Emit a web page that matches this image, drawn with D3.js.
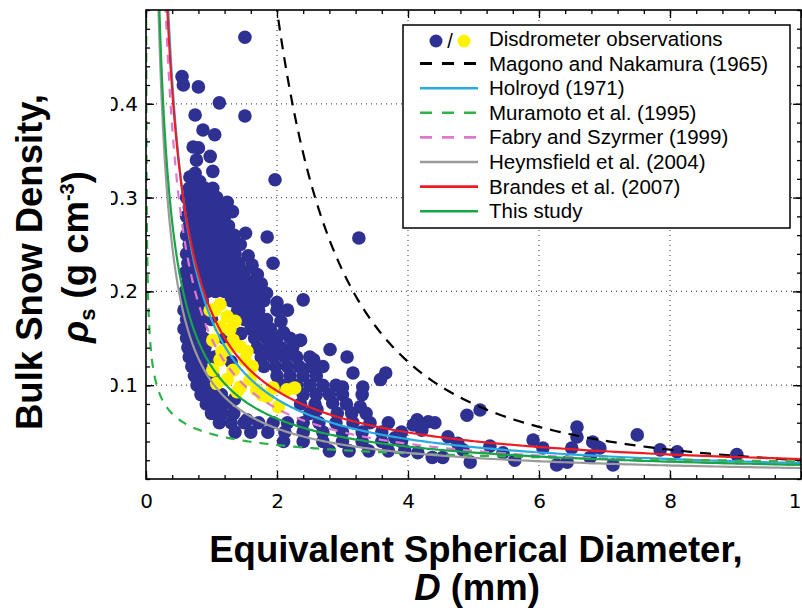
<!DOCTYPE html>
<html>
<head>
<meta charset="utf-8">
<script src="https://cdn.jsdelivr.net/npm/d3@7/dist/d3.min.js"></script>
<style>
  body { margin: 0; background: #fff; }
</style>
</head>
<body>
<div id="chart"></div>
<script>
// axis ticks
const xTicks = [0, 2, 4, 6, 8, 10];
const yTicks = [0.1, 0.2, 0.3, 0.4];
const yTickLabels = ["0.1", "0.2", "0.3", "0.4"];

// density-size relations rho = a * D^b
const curveNames = ["Magono and Nakamura (1965)", "Holroyd (1971)", "Muramoto et al. (1995)",
                    "Fabry and Szyrmer (1999)", "Heymsfield et al. (2004)", "Brandes et al. (2007)", "This study"];
const curveA = [2.0, 0.17, 0.048, 0.15, 0.104, 0.178, 0.12];
const curveB = [-2.0, -1.0, -0.406, -1.0, -0.95, -0.922, -0.9];
const curveColors = ["#000000", "#29abe2", "#2fb24a", "#de78cf", "#9a9a9a", "#ed1c24", "#17a547"];
const curveDashes = ["11,8", null, "9,8", "9,8", null, null, null];

// disdrometer observations [D (mm), rho (g cm-3)]
const blueObs = [
  [1.51,0.471],[0.55,0.429],[0.57,0.420],[0.80,0.418],[1.12,0.401],[1.51,0.387],[0.75,0.388],
  [0.87,0.372],[1.05,0.367],[0.72,0.354],[0.80,0.353],[0.98,0.344],[0.77,0.340],[0.75,0.326],
  [1.02,0.328],[1.97,0.319],[1.24,0.295],[0.67,0.322],[0.82,0.317],
  [0.66,0.31],[0.78,0.31],[0.90,0.31],[1.02,0.31],
  [0.62,0.30],[0.72,0.30],[0.84,0.30],[0.96,0.30],[1.08,0.30],
  [0.66,0.29],[0.78,0.29],[0.90,0.29],[1.02,0.29],[1.14,0.29],
  [0.62,0.28],[0.72,0.28],[0.84,0.28],[0.96,0.28],[1.08,0.28],[1.20,0.28],[1.32,0.285],
  [0.66,0.27],[0.78,0.27],[0.90,0.27],[1.02,0.27],[1.14,0.27],[1.26,0.27],
  [0.62,0.26],[0.72,0.26],[0.84,0.26],[0.96,0.26],[1.08,0.26],[1.20,0.26],[1.34,0.26],[1.52,0.262],
  [0.66,0.25],[0.78,0.25],[0.90,0.25],[1.02,0.25],[1.14,0.25],[1.28,0.25],[1.44,0.25],
  [0.62,0.24],[0.72,0.24],[0.84,0.24],[0.96,0.24],[1.08,0.24],[1.20,0.24],[1.36,0.24],[1.56,0.238],
  [0.64,0.23],[0.76,0.23],[0.88,0.23],[1.00,0.23],[1.12,0.23],[1.26,0.23],[1.42,0.23],[1.62,0.228],
  [0.60,0.22],[0.70,0.22],[0.82,0.22],[0.94,0.22],[1.06,0.22],[1.18,0.22],[1.32,0.22],[1.50,0.22],[1.70,0.218],
  [0.64,0.21],[0.76,0.21],[0.88,0.21],[1.00,0.21],[1.12,0.21],[1.26,0.21],[1.42,0.21],[1.58,0.21],[1.76,0.208],
  [0.60,0.20],[0.70,0.20],[0.82,0.20],[0.94,0.20],[1.06,0.20],[1.20,0.20],[1.36,0.20],[1.52,0.20],[1.68,0.20],[1.84,0.198],
  [0.62,0.19],[0.74,0.19],[0.86,0.19],[1.30,0.19],[1.46,0.19],[1.62,0.19],[1.80,0.19],[2.00,0.188],
  [0.58,0.18],[0.70,0.18],[0.82,0.18],[1.40,0.18],[1.56,0.18],[1.72,0.18],[2.00,0.180],[2.16,0.180],
  [0.62,0.17],[0.74,0.17],[0.86,0.17],[1.50,0.17],[1.66,0.17],[1.84,0.17],[2.06,0.168],
  [0.58,0.16],[0.70,0.16],[0.82,0.16],[1.60,0.16],[1.76,0.16],[1.90,0.16],[2.10,0.156],
  [0.62,0.15],[0.74,0.15],[0.88,0.15],[1.66,0.15],[1.84,0.15],[2.00,0.15],[2.20,0.15],[2.36,0.148],
  [0.64,0.14],[0.76,0.14],[0.90,0.14],[1.70,0.14],[1.88,0.14],[2.06,0.14],[2.24,0.14],[2.56,0.127],[2.81,0.138],
  [0.66,0.13],[0.80,0.13],[0.94,0.13],[1.76,0.13],[1.94,0.13],[2.12,0.13],[2.30,0.13],[2.50,0.13],[3.07,0.130],
  [0.70,0.12],[0.84,0.12],[1.80,0.12],[1.98,0.12],[2.16,0.12],[2.34,0.12],[2.52,0.12],[2.70,0.12],
  [0.74,0.11],[0.88,0.11],[1.02,0.11],[2.00,0.11],[2.20,0.11],[2.40,0.11],[2.60,0.11],[3.16,0.113],[3.58,0.106],[3.66,0.113],
  [0.78,0.10],[0.92,0.10],[2.10,0.10],[2.30,0.10],[2.50,0.10],[2.70,0.10],[2.90,0.10],[3.00,0.098],[3.31,0.098],
  [0.84,0.09],[0.98,0.09],[1.12,0.09],[2.40,0.09],[2.60,0.09],[2.80,0.09],[3.00,0.09],[3.30,0.09],
  [0.92,0.08],[1.06,0.08],[1.24,0.081],[2.36,0.08],[2.58,0.08],[2.85,0.081],[3.06,0.08],[3.27,0.077],
  [1.00,0.07],[1.16,0.07],[1.34,0.07],[1.54,0.063],[2.50,0.07],[2.61,0.074],[2.92,0.07],[3.14,0.07],[3.36,0.07],
  [1.12,0.06],[1.30,0.06],[1.50,0.06],[1.72,0.06],[1.94,0.06],[2.16,0.06],[2.40,0.06],[2.64,0.06],[2.90,0.06],[3.16,0.06],[3.42,0.06],[3.70,0.06],
  [1.36,0.05],[1.60,0.05],[1.86,0.05],[2.12,0.05],[2.40,0.05],[2.70,0.05],[3.00,0.05],[3.30,0.05],[3.60,0.05],[3.90,0.05],
  [2.10,0.04],[2.40,0.04],[2.70,0.04],[3.00,0.04],[3.30,0.04],[3.60,0.04],[3.90,0.04],
  [2.80,0.03],[3.10,0.03],[3.40,0.03],[3.70,0.03],
  [1.00,0.17],[1.20,0.15],[1.05,0.13],[1.30,0.125],[1.45,0.155],[1.15,0.09],[1.35,0.085],
  [1.85,0.258],[3.25,0.257],[1.94,0.230],[2.40,0.191],[1.89,0.152],[2.35,0.148],
  [6.58,0.0555],[6.58,0.0448],[6.50,0.033],[6.82,0.0395],[6.27,0.015],[6.43,0.018],[5.91,0.0416],
  [6.06,0.033],[5.63,0.020],[5.10,0.0736],[4.90,0.068],[4.95,0.018],[4.61,0.045],[4.37,0.023],
  [4.53,0.023],[4.31,0.061],[4.14,0.063],[4.08,0.0576],[4.41,0.060],[4.21,0.052],[3.80,0.044],
  [7.50,0.047],[7.13,0.015],[6.78,0.023],[6.90,0.034],[4.76,0.038],[4.84,0.031],[7.85,0.031],
  [8.11,0.029],[9.02,0.026],[6.93,0.033],[3.95,0.030],[4.15,0.028],[5.25,0.035],[5.45,0.028]
];
const yellowObs = [
  [1.13,0.186],[1.05,0.180],[1.24,0.173],[1.36,0.168],[1.13,0.162],[1.02,0.148],[1.33,0.148],
  [1.44,0.141],[1.54,0.136],[1.24,0.138],[1.13,0.127],[1.02,0.116],[1.33,0.116],[1.62,0.120],
  [1.24,0.106],[1.44,0.098],[1.69,0.095],[1.94,0.097],[2.15,0.095],[2.27,0.097],[1.85,0.088],
  [2.02,0.077],[1.39,0.093],[1.08,0.102],[0.98,0.180],[1.28,0.159],[1.51,0.127],[1.16,0.136],
  [1.59,0.106],[1.77,0.090]
];

const W = 802, H = 615;
const pLeft = 146, pRight = 801, pTop = 10, pBottom = 479;
const x = d3.scaleLinear().domain([0, 10]).range([pLeft, pRight]);
const y = d3.scaleLinear().domain([0, 0.5]).range([pBottom, pTop]);

const svg = d3.select("#chart").append("svg")
    .attr("width", W)
    .attr("height", H)
    .style("font-family", "'Liberation Sans', Arial, Helvetica, sans-serif");

svg.append("rect").attr("width", W).attr("height", H).attr("fill", "#fff");

const defs = svg.append("defs");
defs.append("clipPath").attr("id", "plotClip")
    .append("rect").attr("x", pLeft).attr("y", pTop).attr("width", pRight - pLeft).attr("height", pBottom - pTop);
defs.append("clipPath").attr("id", "labelClip")
    .append("rect").attr("x", 111 - pLeft).attr("y", -10).attr("width", 40).attr("height", H + 20);

// dotted grid
const grid = svg.append("g").attr("stroke", "#555").attr("stroke-width", 1.2).attr("stroke-dasharray", "1,4");
grid.selectAll("line.vx").data(xTicks.slice(1, -1)).enter().append("line")
    .attr("x1", d => x(d)).attr("x2", d => x(d)).attr("y1", pTop).attr("y2", pBottom);
grid.selectAll("line.hy").data(yTicks).enter().append("line")
    .attr("x1", pLeft).attr("x2", pRight).attr("y1", d => y(d)).attr("y2", d => y(d));

// observations
const dots = svg.append("g").attr("clip-path", "url(#plotClip)");
dots.selectAll("circle.blue").data(blueObs).enter().append("circle")
    .attr("cx", d => x(d[0])).attr("cy", d => y(d[1])).attr("r", 6.8)
    .attr("fill", "#2e3192");
dots.selectAll("circle.yellow").data(yellowObs).enter().append("circle")
    .attr("cx", d => x(d[0])).attr("cy", d => y(d[1])).attr("r", 6.8)
    .attr("fill", "#fff200");

// fitted relations
const dGrid = d3.range(-2.7, 1.0001, 0.005).map(e => Math.pow(10, e));
const line = d3.line().x(p => x(p[0])).y(p => y(p[1]));
const curves = svg.append("g").attr("clip-path", "url(#plotClip)").attr("fill", "none");
curveNames.forEach((name, i) => {
    const pts = dGrid.map(D => [D, curveA[i] * Math.pow(D, curveB[i])]).filter(p => p[1] < 0.6);
    curves.append("path")
        .attr("d", line(pts))
        .attr("stroke", curveColors[i])
        .attr("stroke-width", 2.2)
        .attr("stroke-dasharray", curveDashes[i]);
});

// ticks on all four sides, pointing inward
const minorX = d3.range(0, 10.001, 0.4);
const minorY = d3.range(0, 0.5001, 0.02);
function clean(g) { g.select(".domain").remove(); g.selectAll("line").attr("stroke", "#000").attr("stroke-width", 1.3); }

svg.append("g").attr("transform", `translate(0,${pBottom})`)
    .call(d3.axisBottom(x).tickValues(minorX).tickSize(-4).tickFormat("")).call(clean);
svg.append("g").attr("transform", `translate(0,${pTop})`)
    .call(d3.axisTop(x).tickValues(minorX).tickSize(-4).tickFormat("")).call(clean);
svg.append("g").attr("transform", `translate(${pLeft},0)`)
    .call(d3.axisLeft(y).tickValues(minorY).tickSize(-4).tickFormat("")).call(clean);
svg.append("g").attr("transform", `translate(${pRight},0)`)
    .call(d3.axisRight(y).tickValues(minorY).tickSize(-4).tickFormat("")).call(clean);

const xAxis = svg.append("g").attr("transform", `translate(0,${pBottom})`)
    .call(d3.axisBottom(x).tickValues(xTicks).tickSize(-8).tickPadding(15).tickFormat(d3.format("d")))
    .call(clean);
xAxis.selectAll("text").attr("font-size", 20).attr("font-family", "'DejaVu Sans', sans-serif").attr("fill", "#000");

// y labels: the leading zero is partly hidden in the original
const yAxis = svg.append("g").attr("transform", `translate(${pLeft},0)`)
    .call(d3.axisLeft(y).tickValues(yTicks).tickSize(-8).tickPadding(8).tickFormat((d, i) => yTickLabels[i]))
    .call(clean);
yAxis.selectAll("text").attr("font-size", 20).attr("font-family", "'DejaVu Sans', sans-serif").attr("fill", "#000");
yAxis.attr("clip-path", "url(#labelClip)");

svg.append("g").attr("transform", `translate(${pLeft},0)`)
    .call(d3.axisLeft(y).tickValues(yTicks).tickSize(-8).tickFormat("")).call(clean);
svg.append("g").attr("transform", `translate(${pRight},0)`)
    .call(d3.axisRight(y).tickValues(yTicks).tickSize(-8).tickFormat("")).call(clean);
svg.append("g").attr("transform", `translate(0,${pTop})`)
    .call(d3.axisTop(x).tickValues(xTicks).tickSize(-8).tickFormat("")).call(clean);

// frame
svg.append("rect").attr("x", pLeft).attr("y", pTop).attr("width", pRight - pLeft).attr("height", pBottom - pTop)
    .attr("fill", "none").attr("stroke", "#000").attr("stroke-width", 1.6);

// legend
const lg = svg.append("g");
lg.append("rect").attr("x", 403).attr("y", 25).attr("width", 387).attr("height", 203)
    .attr("fill", "#fff").attr("stroke", "#000").attr("stroke-width", 1.5);
const rowY = i => 39 + i * 24.6;
lg.append("circle").attr("cx", 436).attr("cy", rowY(0) + 2).attr("r", 6.5).attr("fill", "#2e3192");
lg.append("text").attr("x", 450).attr("y", rowY(0) + 9).attr("text-anchor", "middle")
    .attr("font-size", 20).text("/");
lg.append("circle").attr("cx", 464).attr("cy", rowY(0) + 2).attr("r", 6.5).attr("fill", "#fff200");
lg.append("text").attr("x", 489).attr("y", rowY(0) + 7).attr("font-size", 20.5).text("Disdrometer observations");
curveNames.forEach((name, i) => {
    const yy = rowY(i + 1);
    lg.append("line").attr("x1", 420).attr("x2", 478).attr("y1", yy).attr("y2", yy)
        .attr("stroke", curveColors[i]).attr("stroke-width", i === 0 ? 3 : 2.6)
        .attr("stroke-dasharray", curveDashes[i] ? "12,10" : null);
    lg.append("text").attr("x", 489).attr("y", yy + 7).attr("font-size", 20.5).text(name);
});

// axis titles
const titleFont = "bold 36.5px 'Liberation Sans', Arial, Helvetica, sans-serif";
svg.append("text").attr("transform", "translate(42,262) rotate(-90)").attr("text-anchor", "middle")
    .style("font", titleFont).text("Bulk Snow Density,");
const yt2 = svg.append("text").attr("transform", "translate(88,257) rotate(-90)").attr("text-anchor", "middle")
    .style("font", titleFont);
yt2.append("tspan").attr("font-style", "italic").text("ρ");
yt2.append("tspan").style("font-size", "22px").attr("dy", 7).text("s");
yt2.append("tspan").style("font-size", "36.5px").attr("dy", -7).text(" (g cm");
yt2.append("tspan").style("font-size", "20px").attr("dy", -14).text("-3");
yt2.append("tspan").style("font-size", "36.5px").attr("dy", 14).text(")");

svg.append("text").attr("x", 476).attr("y", 562).attr("text-anchor", "middle")
    .style("font", titleFont).text("Equivalent Spherical Diameter,");
const xt2 = svg.append("text").attr("x", 477).attr("y", 600).attr("text-anchor", "middle").style("font", titleFont);
xt2.append("tspan").attr("font-style", "italic").text("D");
xt2.append("tspan").text(" (mm)");
</script>
</body>
</html>
